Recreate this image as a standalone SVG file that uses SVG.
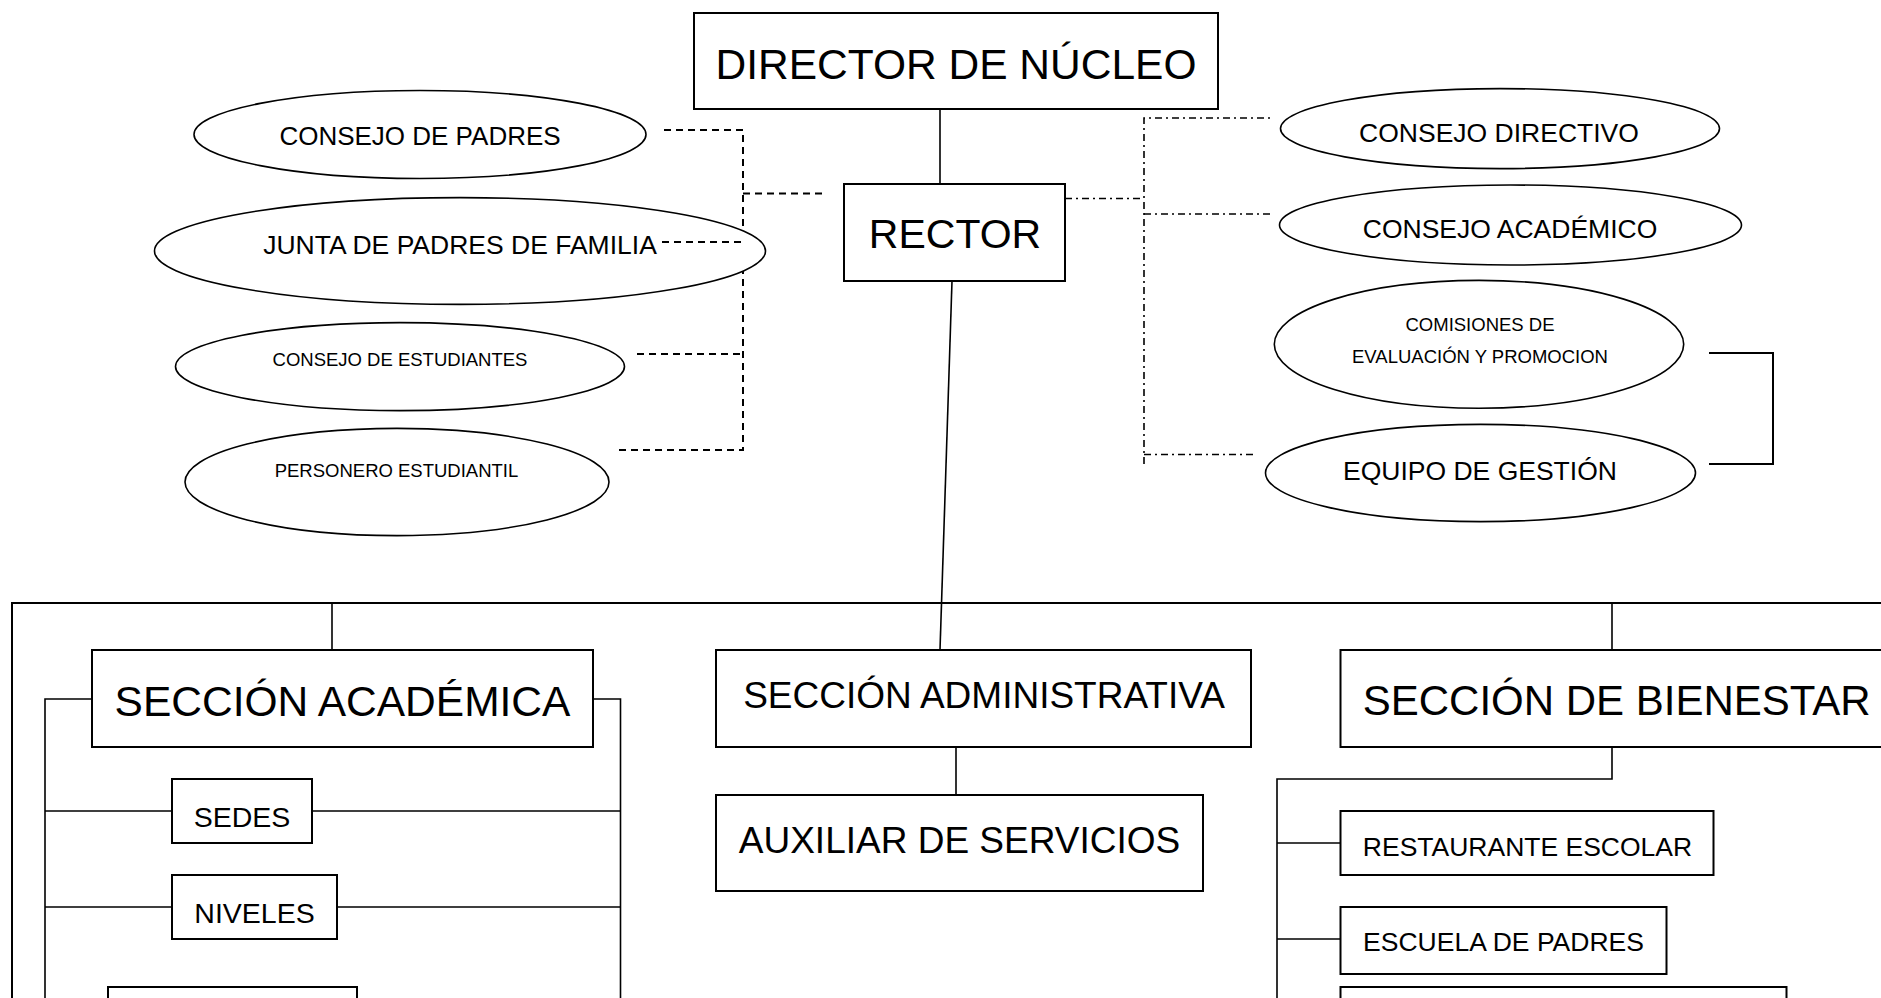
<svg xmlns="http://www.w3.org/2000/svg" width="1881" height="998" viewBox="0 0 1881 998">
<style>
.box{fill:#fff;stroke:#000;stroke-width:2}
.ell{fill:#fff;stroke:#000;stroke-width:1.6}
.t{font-family:"Liberation Sans",Arial,sans-serif;fill:#000;text-anchor:middle}
.ln{fill:none;stroke:#000;stroke-width:1.6}
.bus{fill:none;stroke:#000;stroke-width:2}
.dash{fill:none;stroke:#000;stroke-width:2;stroke-dasharray:7 5}
.dd{fill:none;stroke:#000;stroke-width:1.6;stroke-dasharray:7 4 2 4}
</style>
<rect width="1881" height="998" fill="#fff"/>
<g id="connectors">
<path class="ln" d="M940 109 V197"/>
<path class="ln" d="M952 281 L940 650"/>
<path class="dash" d="M664 130 H743 V450 H614"/>
<path class="dash" d="M662 242 H743"/>
<path class="dash" d="M637 354 H743"/>
<path class="dash" d="M743 193.5 H823"/>
<path class="dd" d="M1065 198.5 H1144"/>
<path class="dd" d="M1144 464 V118 H1271"/>
<path class="dd" d="M1144 214 H1271"/>
<path class="dd" d="M1144 454.5 H1256"/>
<path class="bus" d="M1709 353 H1773 V464 H1709"/>
<path class="bus" d="M12 998 V603 H1885"/>
<path class="ln" d="M332 603 V650"/>
<path class="ln" d="M1612 603 V650"/>
<path class="ln" d="M92 699 H45 V998"/>
<path class="ln" d="M593 699 H620.5 V998"/>
<path class="ln" d="M45 811 H172 M312 811 H620.5"/>
<path class="ln" d="M45 907 H172 M337 907 H620.5"/>
<path class="ln" d="M956 747 V795"/>
<path class="ln" d="M1612 747 V779 H1277 V998"/>
<path class="ln" d="M1277 843 H1340.5"/>
<path class="ln" d="M1277 939 H1340.5"/>
</g>
<g id="director"><rect class="box" x="694" y="13" width="524" height="96"/><text class="t" x="956" y="78.5" font-size="42.5">DIRECTOR DE NÚCLEO</text></g>
<g id="rector"><rect class="box" x="844" y="184" width="221" height="97"/><text class="t" x="955" y="248" font-size="41">RECTOR</text></g>
<g id="consejo-padres"><ellipse class="ell" cx="420" cy="134.5" rx="226" ry="44"/><text class="t" x="420" y="144.6" font-size="26">CONSEJO DE PADRES</text></g>
<g id="junta-padres"><ellipse class="ell" cx="460" cy="251" rx="305.5" ry="53.4"/><text class="t" x="460" y="254" font-size="26.5">JUNTA DE PADRES DE FAMILIA</text></g>
<path class="dash" d="M662 242 H743"/>
<g id="consejo-estudiantes"><ellipse class="ell" cx="400" cy="366.6" rx="224.5" ry="44"/><text class="t" x="400" y="366" font-size="18.5">CONSEJO DE ESTUDIANTES</text></g>
<g id="personero"><ellipse class="ell" cx="397" cy="482" rx="212" ry="53.6"/><text class="t" x="396.5" y="477" font-size="18.5">PERSONERO ESTUDIANTIL</text></g>
<g id="consejo-directivo"><ellipse class="ell" cx="1500" cy="128.6" rx="219.5" ry="40"/><text class="t" x="1499" y="141.8" font-size="26.5">CONSEJO DIRECTIVO</text></g>
<g id="consejo-academico"><ellipse class="ell" cx="1510.5" cy="225" rx="231" ry="40"/><text class="t" x="1510" y="237.5" font-size="26.5">CONSEJO ACADÉMICO</text></g>
<g id="comisiones"><ellipse class="ell" cx="1479" cy="344.3" rx="204.7" ry="63.9"/><text class="t" x="1480" y="331" font-size="18.5">COMISIONES DE</text><text class="t" x="1480" y="362.5" font-size="18.5">EVALUACIÓN Y PROMOCION</text></g>
<g id="equipo-gestion"><ellipse class="ell" cx="1480.5" cy="473" rx="215" ry="48.6"/><text class="t" x="1480" y="480.4" font-size="26.5">EQUIPO DE GESTIÓN</text></g>
<g id="seccion-academica"><rect class="box" x="92" y="650" width="501" height="97"/><text class="t" x="342.5" y="715.7" font-size="42.5">SECCIÓN ACADÉMICA</text></g>
<g id="sedes"><rect class="box" x="172" y="779" width="140" height="64"/><text class="t" x="242" y="826.7" font-size="28.5">SEDES</text></g>
<g id="niveles"><rect class="box" x="172" y="875" width="165" height="64"/><text class="t" x="254.5" y="922.7" font-size="28.5">NIVELES</text></g>
<g id="academica-3"><rect class="box" x="108" y="987" width="249" height="30"/></g>
<g id="seccion-administrativa"><rect class="box" x="716" y="650" width="535" height="97"/><text class="t" x="984" y="708.3" font-size="37">SECCIÓN ADMINISTRATIVA</text></g>
<g id="auxiliar-servicios"><rect class="box" x="716" y="795" width="487" height="96"/><text class="t" x="959.5" y="853.3" font-size="37">AUXILIAR DE SERVICIOS</text></g>
<g id="seccion-bienestar"><rect class="box" x="1340.5" y="650" width="600" height="97"/><text class="t" x="1362.7" y="715" font-size="42" text-anchor="start" style="text-anchor:start">SECCIÓN DE BIENESTAR</text></g>
<g id="restaurante"><rect class="box" x="1340.5" y="811" width="373" height="64"/><text class="t" x="1527.5" y="855.7" font-size="26.5">RESTAURANTE ESCOLAR</text></g>
<g id="escuela-padres"><rect class="box" x="1340.5" y="907" width="326" height="67"/><text class="t" x="1503.5" y="951" font-size="26.5">ESCUELA DE PADRES</text></g>
<g id="bienestar-3"><rect class="box" x="1340.5" y="987" width="446" height="30"/></g>
</svg>
